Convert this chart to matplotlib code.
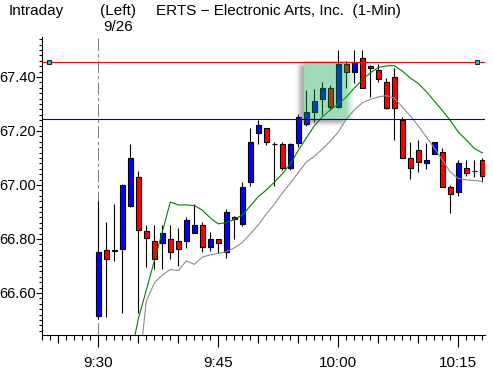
import numpy as np
import pandas as pd
import matplotlib
matplotlib.use('Agg')
import matplotlib.pyplot as plt

plt.rcParams['font.family'] = ['Liberation Sans', 'DejaVu Sans']

# 1-min bars, 9:30 .. 10:18
times = pd.date_range('2000-09-26 09:30', periods=49, freq='1min')
mins = ((times - times[0]).total_seconds() / 60).to_numpy()

open_ = [66.515, 66.759, 66.758, 66.762, 66.922, 67.029, 66.830, 66.793, 66.784, 66.799,
         66.793, 66.794, 66.823, 66.852, 66.772, 66.799, 66.753, 66.881, 66.854, 67.012,
         67.194, 67.210, 67.152, 67.151, 67.062, 67.154, 67.226, 67.272, 67.319, 67.358,
         67.290, 67.448, 67.420, 67.469, 67.441, 67.426, 67.380, 67.399, 67.241, 67.099,
         67.130, 67.083, 67.114, 67.121, 66.991, 66.973, 67.062, 67.052, 67.093]
high = [66.942, 66.864, 66.930, 67.004, 67.152, 67.053, 66.852, 66.852, 66.852, 66.852,
        66.840, 66.883, 66.930, 66.864, 66.827, 66.799, 66.910, 66.885, 67.012, 67.210,
        67.241, 67.210, 67.158, 67.160, 67.157, 67.263, 67.352, 67.357, 67.380, 67.370,
        67.500, 67.459, 67.500, 67.500, 67.444, 67.448, 67.397, 67.432, 67.251, 67.160,
        67.167, 67.154, 67.160, 67.138, 67.000, 67.093, 67.093, 67.093, 67.099]
low = [66.503, 66.510, 66.720, 66.527, 66.917, 66.527, 66.697, 66.688, 66.688, 66.725,
       66.700, 66.766, 66.821, 66.753, 66.757, 66.747, 66.729, 66.799, 66.848, 66.996,
       67.152, 67.148, 66.998, 67.056, 67.056, 67.140, 67.219, 67.235, 67.259, 67.278,
       67.285, 67.358, 67.379, 67.358, 67.327, 67.383, 67.280, 67.167, 67.099, 67.021,
       67.049, 67.059, 67.114, 66.994, 66.897, 66.959, 67.033, 67.031, 67.010]
close = [66.751, 66.725, 66.756, 67.000, 67.099, 66.833, 66.803, 66.725, 66.821, 66.753,
         66.762, 66.870, 66.852, 66.772, 66.799, 66.784, 66.899, 66.873, 66.994, 67.160,
         67.222, 67.160, 67.150, 67.064, 67.151, 67.251, 67.270, 67.311, 67.358, 67.290,
         67.448, 67.420, 67.457, 67.360, 67.432, 67.391, 67.284, 67.284, 67.099, 67.064,
         67.084, 67.093, 67.158, 66.994, 66.966, 67.083, 67.043, 67.050, 67.033]

# moving averages (green from 9:34, gray from 9:35)
ma_fast = [66.359, 66.504, 66.611, 66.719, 66.826, 66.937, 66.926, 66.926, 66.924, 66.907,
           66.878, 66.856, 66.861, 66.872, 66.889, 66.922, 66.957, 66.981, 67.010, 67.041,
           67.078, 67.128, 67.174, 67.219, 67.252, 67.278, 67.300, 67.326, 67.359, 67.389,
           67.415, 67.435, 67.441, 67.442, 67.422, 67.396, 67.376, 67.346, 67.311, 67.276,
           67.239, 67.196, 67.167, 67.135, 67.119]
ma_slow = [66.296, 66.570, 66.637, 66.667, 66.687, 66.683, 66.719, 66.706, 66.733, 66.741,
           66.746, 66.753, 66.767, 66.787, 66.819, 66.852, 66.893, 66.928, 66.970, 67.007,
           67.046, 67.085, 67.106, 67.133, 67.163, 67.196, 67.244, 67.278, 67.304, 67.317,
           67.326, 67.331, 67.322, 67.289, 67.256, 67.219, 67.178, 67.137, 67.093, 67.048,
           67.024, 67.019, 67.017, 67.013]

level_hi = 67.454
level_lo = 67.243
hi_handles = [-6.15, 47.4]

# highlighted zone (minutes from 9:30)
zone_x = (25.71, 31.0, 32.0)

o = np.array(open_); h = np.array(high); l = np.array(low); c = np.array(close)
up = c >= o
col = np.where(up, '#0000ff', '#ff0000')

fig = plt.figure(figsize=(4.93, 3.72), dpi=100)
ax = fig.add_axes([42/493, 37/372, 443/493, 298/372])

x0, x1 = -7.04, 48.34
y0, y1 = 66.4444, 67.548

ax.axvline(0, color='#808080', lw=0.75, ls=(0, (12, 3, 3, 3)), zorder=1)

ax.vlines(mins, l, h, color='black', lw=0.8, zorder=2)
ax.bar(mins, np.abs(c - o), bottom=np.minimum(o, c), width=0.6,
       color=col, edgecolor='black', linewidth=0.8, zorder=3)

ax.plot(mins[4:], ma_fast, color='#008000', lw=0.8, zorder=4)
ax.plot(mins[5:], ma_slow, color='#8c8c8c', lw=0.8, zorder=4)

# zone: shadow + green fill fading on the right
gx = np.linspace(zone_x[0] - 1.5, zone_x[2] + 0.2, 300)
gy = np.linspace(level_lo - 0.04, level_hi + 0.005, 200)
X, Y = np.meshgrid(gx, gy)
sig = lambda v, w: 1 / (1 + np.exp(-v / w))
wx, wy = 0.15, 0.15 / 270 * 8
sh = (sig(X - (zone_x[0] - 0.6), wx) * sig((zone_x[1] - 0.3) - X, wx)
      * sig(Y - (level_lo - 0.016), wy) * sig((level_hi - 0.01) - Y, wy))
inside = (X >= zone_x[0]) & (X <= zone_x[2]) & (Y >= level_lo) & (Y <= level_hi)
fade = np.clip((zone_x[2] - X) / (zone_x[2] - zone_x[1]), 0, 1)
img = np.zeros(X.shape + (4,))
img[..., :3] = 0.35
img[..., 3] = 0.5 * sh * ~inside
img[inside, 0] = 17 / 255
img[inside, 1] = 167 / 255
img[inside, 2] = 80 / 255
img[inside, 3] = 0.4 * fade[inside]
ax.imshow(img, extent=[gx[0], gx[-1], gy[0], gy[-1]], origin='lower',
          aspect='auto', interpolation='bilinear', zorder=5)

ax.axhline(level_hi, color='#ff0000', lw=0.8, zorder=6)
ax.axhline(level_lo, color='#0000c8', lw=0.8, zorder=6)
ax.plot(hi_handles, [level_hi] * 2, ls='none', marker='s', ms=3,
        mfc='#00c8c8', mec='black', mew=0.6, zorder=7)

ax.set_xlim(x0, x1)
ax.set_ylim(y0, y1)

for s in ['top', 'right']:
    ax.spines[s].set_visible(False)
for s in ['left', 'bottom']:
    ax.spines[s].set_linewidth(0.8)

ax.set_xticks([0, 15, 30, 45], labels=['9:30', '9:45', '10:00', '10:15'])
ax.set_xticks(np.arange(-7, 49), minor=True)
ax.set_yticks([66.6, 66.8, 67.0, 67.2, 67.4], labels=['66.60', '66.80', '67.00', '67.20', '67.40'])
ax.set_yticks(np.arange(66.46, 67.54, 0.02), minor=True)
ax.tick_params(axis='x', which='major', length=8.4, width=0.8, pad=7, labelsize=11)
ax.tick_params(axis='x', which='minor', length=3.6, width=0.8)
ax.tick_params(axis='y', which='major', length=4.3, width=0.8, pad=0.3, labelsize=10.5)
ax.tick_params(axis='y', which='minor', length=2.2, width=0.8)

# 5-minute ticks
ax2 = ax.twiny()
ax2.set_xlim(x0, x1)
ax2.xaxis.set_ticks_position('bottom')
ax2.set_xticks([-5, 5, 10, 20, 25, 35, 40], labels=[''] * 7)
ax2.tick_params(axis='x', length=6, width=0.8)
for s in ax2.spines.values():
    s.set_visible(False)

fig.text(9/493, 1 - 15/372, 'Intraday', fontsize=11, va='baseline')
fig.text(100/493, 1 - 15/372, '(Left)', fontsize=11, va='baseline')
fig.text(118/493, 1 - 31/372, '9/26', fontsize=11, va='baseline', ha='center')
fig.text(156/493, 1 - 15/372, 'ERTS \u2212 Electronic Arts, Inc.  (1-Min)', fontsize=11, va='baseline')

fig.savefig('out.png', dpi=100)
